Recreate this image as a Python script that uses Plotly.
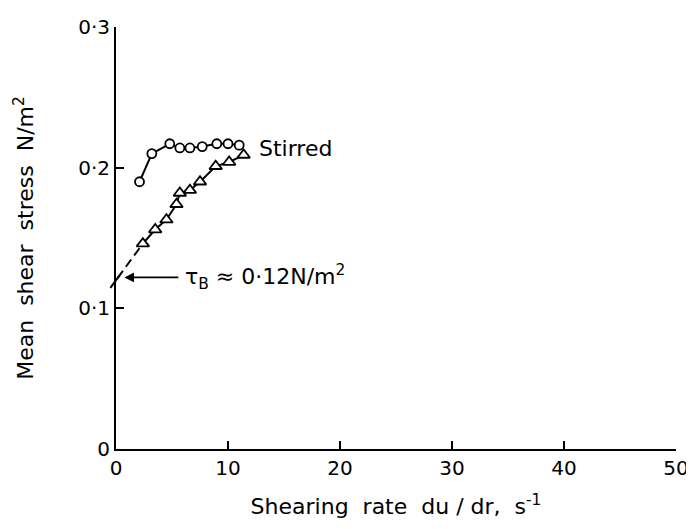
import plotly.graph_objects as go

stirred_x = [2.1, 3.2, 4.8, 5.7, 6.6, 7.7, 9.0, 10.0, 11.0]
stirred_y = [0.190, 0.210, 0.217, 0.214, 0.214, 0.215, 0.217, 0.217, 0.216]

unstirred_x = [2.4, 3.5, 4.5, 5.4, 5.7, 6.6, 7.5, 8.9, 10.1, 11.4]
unstirred_y = [0.146, 0.156, 0.163, 0.174, 0.182, 0.184, 0.190, 0.201, 0.204, 0.209]

# dashed extrapolation of the unstirred curve to the yield stress
extrap_x = [-0.6, 2.4]
extrap_y = [0.1135, 0.146]

x_ticks = [0, 10, 20, 30, 40, 50]
x_labels = ["0", "10", "20", "30", "40", "50"]
y_ticks = [0, 0.1, 0.2, 0.3]
y_labels = ["0", "0·1", "0·2", "0·3"]

FONT = "DejaVu Sans, sans-serif"

fig = go.Figure()
fig.add_trace(go.Scatter(x=extrap_x, y=extrap_y, mode="lines",
                         line=dict(color="black", width=2, dash="9px,5px"),
                         showlegend=False))
fig.add_trace(go.Scatter(x=unstirred_x, y=unstirred_y, mode="lines+markers",
                         line=dict(color="black", width=2),
                         marker=dict(symbol="triangle-up", size=11, color="white",
                                     line=dict(color="black", width=1.8)),
                         showlegend=False))
fig.add_trace(go.Scatter(x=stirred_x, y=stirred_y, mode="lines+markers",
                         line=dict(color="black", width=2),
                         marker=dict(symbol="circle", size=9, color="white",
                                     line=dict(color="black", width=1.8)),
                         showlegend=False))

# first dash of the extrapolation crosses the y axis (not clipped)
slope = (extrap_y[1] - extrap_y[0]) / (extrap_x[1] - extrap_x[0])
seg_end_x = extrap_x[0] + 0.9
fig.add_annotation(x=seg_end_x, y=extrap_y[0] + slope * 0.9,
                   ax=extrap_x[0], ay=extrap_y[0], axref="x", ayref="y",
                   text="", showarrow=True, arrowhead=0, arrowwidth=2,
                   arrowcolor="black", standoff=0, startstandoff=0)

fig.add_annotation(x=12.6, y=0.2135, text="Stirred", showarrow=False,
                   xanchor="left", yanchor="middle",
                   font=dict(size=22, color="black", family=FONT))
fig.add_annotation(x=0.75, y=0.122, ax=5.7, ay=0.122, axref="x", ayref="y",
                   text="", showarrow=True, arrowhead=2, arrowsize=1.2,
                   arrowwidth=1.6, arrowcolor="black")
fig.add_annotation(x=6.0, y=0.122, text="τ<sub>B</sub> ≈ 0·12N/m<sup>2</sup>",
                   showarrow=False, xanchor="left", yanchor="middle",
                   font=dict(size=22, color="black", family=FONT))

fig.update_layout(
    width=686, height=521,
    margin=dict(l=108, r=18, t=19, b=80),
    plot_bgcolor="white", paper_bgcolor="white",
    font=dict(family=FONT, size=20, color="black"),
    xaxis=dict(range=[0, 50], tickvals=x_ticks, ticktext=x_labels,
               showline=True, linecolor="black", linewidth=2,
               ticks="inside", ticklen=8, tickwidth=1.5, tickcolor="black",
               showgrid=False, zeroline=False, automargin=False,
               title=dict(text="Shearing  rate  du / dr,  s<sup>-1</sup>", standoff=20,
                          font=dict(size=22))),
    yaxis=dict(range=[0, 0.3], tickvals=y_ticks, ticktext=y_labels,
               showline=True, linecolor="black", linewidth=2,
               ticks="inside", ticklen=8, tickwidth=1.5, tickcolor="black",
               showgrid=False, zeroline=False, automargin=False,
               title=dict(text="Mean  shear  stress  N/m<sup>2</sup>", standoff=38,
                          font=dict(size=22))),
)

fig.write_html("out.html")
